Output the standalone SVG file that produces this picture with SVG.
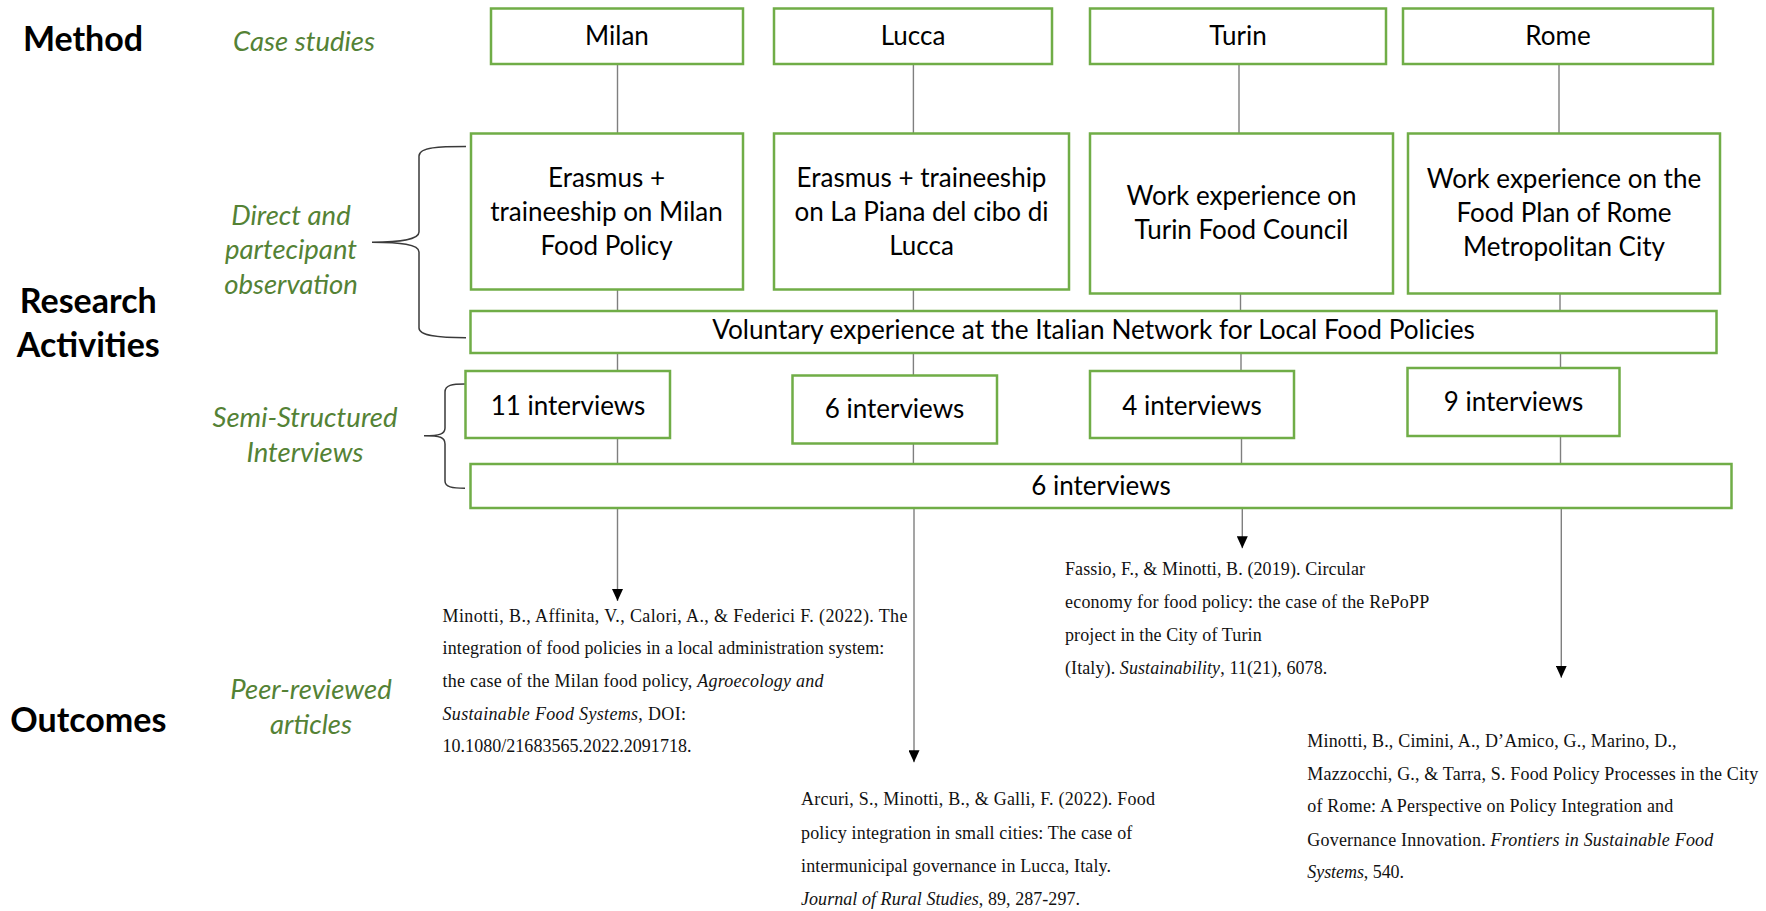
<svg xmlns="http://www.w3.org/2000/svg" width="1766" height="911" viewBox="0 0 1766 911">
<style>
.box{fill:#fff;stroke:#70AD47;stroke-width:2.5}
.bt{font-family:Lato,"Liberation Sans",sans-serif;font-size:26px;fill:#000;text-anchor:middle}
.hd{font-family:Lato,"Liberation Sans",sans-serif;font-size:34px;font-weight:bold;fill:#000;text-anchor:middle}
.gl{font-family:Lato,"Liberation Sans",sans-serif;font-size:27.5px;font-style:italic;fill:#548235;text-anchor:middle}
.ref{font-family:"Liberation Serif","Times New Roman",serif;font-size:18px;fill:#111}
.it{font-style:italic}
.ln{stroke:#7f7f7f;stroke-width:1.4;fill:none}
.br{stroke:#3a3a3a;stroke-width:1.5;fill:none}
</style>
<defs>
<marker id="ah" viewBox="0 0 12 11" refX="12" refY="5.5" markerWidth="12" markerHeight="11" markerUnits="userSpaceOnUse" orient="auto">
<path d="M0,0 L12,5.5 L0,11 z" fill="#000"/>
</marker>
</defs>

<g id="labels">
<text class="hd" x="83" y="50.7">Method</text>
<text class="hd" x="88.3" y="313.3">Research</text>
<text class="hd" x="88.3" y="356.7">Activities</text>
<text class="hd" x="88.3" y="731.7">Outcomes</text>
<text class="gl" x="304" y="50.7">Case studies</text>
<text class="gl" x="291" y="225">Direct and</text>
<text class="gl" x="291" y="259">partecipant</text>
<text class="gl" x="291" y="294">observation</text>
<text class="gl" x="305" y="426.7">Semi-Structured</text>
<text class="gl" x="305" y="461.7">Interviews</text>
<text class="gl" x="311" y="699.3">Peer-reviewed</text>
<text class="gl" x="311" y="734">articles</text>
</g>

<g id="braces">
<path class="br" d="M466,146.5 C440,146.5 419,147 419,156 L419,232 C419,240 400,242 372,242.3 C400,242.5 419,244 419,252 L419,328 C419,336 440,337.7 466,337.7"/>
<path class="br" d="M465,384 C452,384 445,385 445,392 L445,428 C445,434 440,435.7 424,435.7 C440,435.7 445,437 445,444 L445,481 C445,487 452,488.3 465,488.3"/>
</g>

<g id="connectors">
<line class="ln" x1="617.5" y1="64" x2="617.5" y2="133.5"/>
<line class="ln" x1="617.5" y1="289.5" x2="617.5" y2="311"/>
<line class="ln" x1="617.5" y1="353" x2="617.5" y2="371"/>
<line class="ln" x1="617.5" y1="438" x2="617.5" y2="464"/>
<line class="ln" x1="617.5" y1="508" x2="617.5" y2="601" marker-end="url(#ah)"/>
<line class="ln" x1="913.4" y1="64" x2="913.4" y2="133.5"/>
<line class="ln" x1="913.4" y1="289.5" x2="913.4" y2="311"/>
<line class="ln" x1="913.4" y1="353" x2="913.4" y2="375.5"/>
<line class="ln" x1="913.4" y1="443.5" x2="913.4" y2="464"/>
<line class="ln" x1="914" y1="508" x2="914" y2="762.3" marker-end="url(#ah)"/>
<line class="ln" x1="1239" y1="64" x2="1239" y2="133.5"/>
<line class="ln" x1="1240.5" y1="293.5" x2="1240.5" y2="311"/>
<line class="ln" x1="1241" y1="353" x2="1241" y2="371"/>
<line class="ln" x1="1241.5" y1="438" x2="1241.5" y2="464"/>
<line class="ln" x1="1242.3" y1="508" x2="1242.3" y2="548.3" marker-end="url(#ah)"/>
<line class="ln" x1="1559" y1="64" x2="1559" y2="133.5"/>
<line class="ln" x1="1560" y1="293.5" x2="1560" y2="311"/>
<line class="ln" x1="1560.5" y1="353" x2="1560.5" y2="368"/>
<line class="ln" x1="1560.5" y1="436" x2="1560.5" y2="464"/>
<line class="ln" x1="1561.3" y1="508" x2="1561.3" y2="677.7" marker-end="url(#ah)"/>
</g>

<g id="milan"><rect class="box" x="491" y="8.5" width="252" height="55.5"/><text class="bt" x="617" y="45">Milan</text></g>
<g id="lucca"><rect class="box" x="774" y="8.5" width="278" height="55.5"/><text class="bt" x="913" y="45">Lucca</text></g>
<g id="turin"><rect class="box" x="1090" y="8.5" width="296" height="55.5"/><text class="bt" x="1238" y="45">Turin</text></g>
<g id="rome"><rect class="box" x="1403" y="8.5" width="310" height="55.5"/><text class="bt" x="1558" y="45">Rome</text></g>

<g id="milan-obs"><rect class="box" x="471" y="133.5" width="272" height="156"/>
<text class="bt" x="606.5" y="186.7">Erasmus +</text><text class="bt" x="606.5" y="220.7">traineeship on Milan</text><text class="bt" x="606.5" y="255">Food Policy</text></g>
<g id="lucca-obs"><rect class="box" x="774" y="133.5" width="295" height="156"/>
<text class="bt" x="921.5" y="186.7">Erasmus + traineeship</text><text class="bt" x="921.5" y="220.7">on La Piana del cibo di</text><text class="bt" x="921.5" y="255">Lucca</text></g>
<g id="turin-obs"><rect class="box" x="1090" y="133.5" width="303" height="160"/>
<text class="bt" x="1241.5" y="205">Work experience on</text><text class="bt" x="1241.5" y="239.3">Turin Food Council</text></g>
<g id="rome-obs"><rect class="box" x="1408" y="133.5" width="312" height="160"/>
<text class="bt" x="1564" y="187.7">Work experience on the</text><text class="bt" x="1564" y="221.7">Food Plan of Rome</text><text class="bt" x="1564" y="256">Metropolitan City</text></g>

<g id="voluntary"><rect class="box" x="470.5" y="311" width="1246" height="42"/><text class="bt" x="1093.6" y="339.3" style="font-size:26.2px">Voluntary experience at the Italian Network for Local Food Policies</text></g>

<g id="int-milan"><rect class="box" x="465.5" y="371" width="204.5" height="67"/><text class="bt" x="568" y="415">11 interviews</text></g>
<g id="int-lucca"><rect class="box" x="792.5" y="375.5" width="204.5" height="68"/><text class="bt" x="894.5" y="418.3">6 interviews</text></g>
<g id="int-turin"><rect class="box" x="1090" y="371" width="204" height="67"/><text class="bt" x="1192" y="415">4 interviews</text></g>
<g id="int-rome"><rect class="box" x="1407.5" y="368" width="212" height="68"/><text class="bt" x="1513.5" y="410.7">9 interviews</text></g>
<g id="int-network"><rect class="box" x="470.5" y="464" width="1261" height="44"/><text class="bt" x="1101" y="495">6 interviews</text></g>

<g id="ref-milan">
<text class="ref" x="442.5" y="621.7" textLength="465" lengthAdjust="spacing">Minotti, B., Affinita, V., Calori, A., &amp; Federici F. (2022). The</text>
<text class="ref" x="442.5" y="654.3" textLength="441.8" lengthAdjust="spacing">integration of food policies in a local administration system:</text>
<text class="ref" x="442.5" y="686.7" textLength="381" lengthAdjust="spacing">the case of the Milan food policy, <tspan class="it">Agroecology and</tspan></text>
<text class="ref" x="442.5" y="720" textLength="243.5" lengthAdjust="spacing"><tspan class="it">Sustainable Food Systems</tspan>, DOI:</text>
<text class="ref" x="442.5" y="752.3" textLength="249" lengthAdjust="spacing">10.1080/21683565.2022.2091718.</text>
</g>
<g id="ref-turin">
<text class="ref" x="1065" y="575" textLength="300" lengthAdjust="spacing">Fassio, F., &amp; Minotti, B. (2019). Circular</text>
<text class="ref" x="1065" y="608.3" textLength="364.3" lengthAdjust="spacing">economy for food policy: the case of the RePoPP</text>
<text class="ref" x="1065" y="640.7" textLength="196.7" lengthAdjust="spacing">project in the City of Turin</text>
<text class="ref" x="1065" y="674" textLength="262.3" lengthAdjust="spacing">(Italy). <tspan class="it">Sustainability</tspan>, 11(21), 6078.</text>
</g>
<g id="ref-lucca">
<text class="ref" x="801" y="805" textLength="354" lengthAdjust="spacing">Arcuri, S., Minotti, B., &amp; Galli, F. (2022). Food</text>
<text class="ref" x="801" y="839" textLength="331.3" lengthAdjust="spacing">policy integration in small cities: The case of</text>
<text class="ref" x="801" y="871.7" textLength="310" lengthAdjust="spacing">intermunicipal governance in Lucca, Italy.</text>
<text class="ref" x="801" y="905" textLength="279" lengthAdjust="spacing"><tspan class="it">Journal of Rural Studies</tspan>, 89, 287-297.</text>
</g>
<g id="ref-rome">
<text class="ref" x="1307.3" y="746.7" textLength="369.3" lengthAdjust="spacing">Minotti, B., Cimini, A., D’Amico, G., Marino, D.,</text>
<text class="ref" x="1307.3" y="780" textLength="451" lengthAdjust="spacing">Mazzocchi, G., &amp; Tarra, S. Food Policy Processes in the City</text>
<text class="ref" x="1307.3" y="812.3" textLength="366" lengthAdjust="spacing">of Rome: A Perspective on Policy Integration and</text>
<text class="ref" x="1307.3" y="845.7" textLength="406" lengthAdjust="spacing">Governance Innovation. <tspan class="it">Frontiers in Sustainable Food</tspan></text>
<text class="ref" x="1307.3" y="878.3" textLength="96.7" lengthAdjust="spacing"><tspan class="it">Systems</tspan>, 540.</text>
</g>
</svg>
